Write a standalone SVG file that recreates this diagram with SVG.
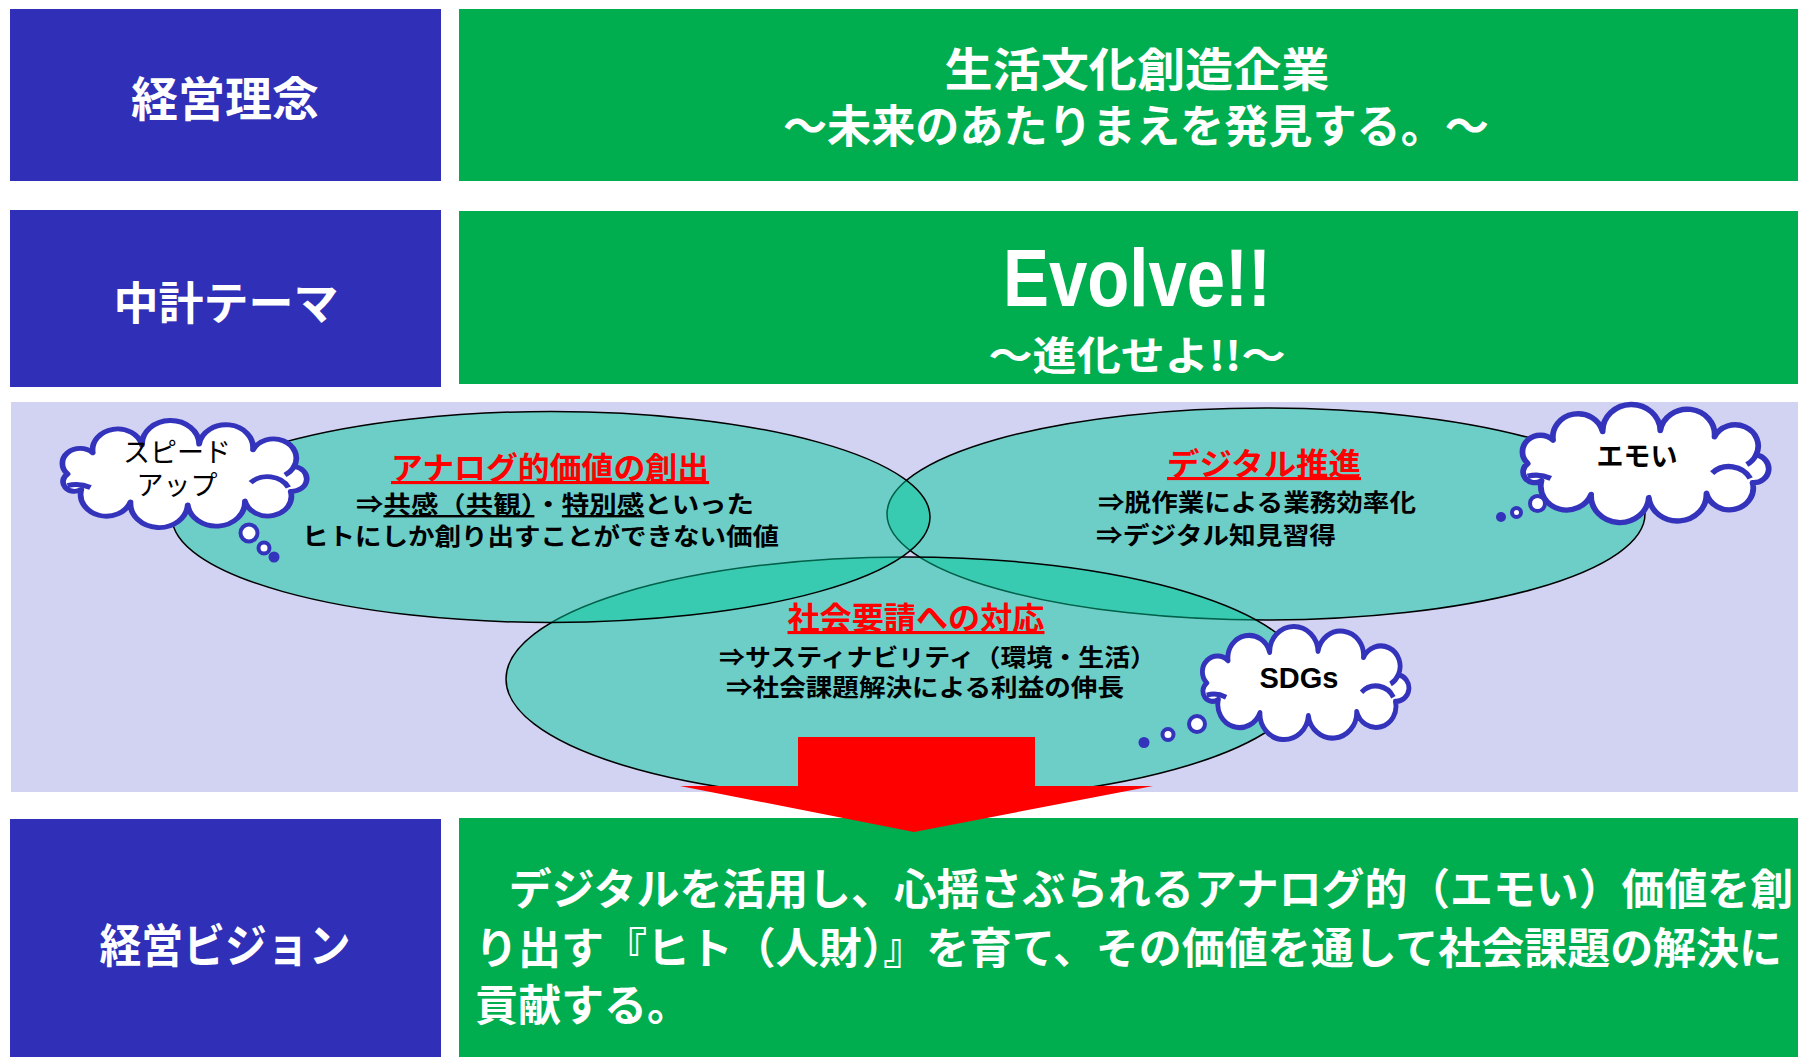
<svg xmlns="http://www.w3.org/2000/svg" width="1798" height="1057" viewBox="0 0 1798 1057">
<style>
.t{font-family:"Noto Sans CJK JP","Noto Sans CJK SC",sans-serif}
.w{fill:#fff;font-weight:700}
.blue{fill:#2F2FB7}
.green{fill:#00AE4F}
.ell{fill:#00C898;fill-opacity:.48;stroke:#000;stroke-width:1.5}
.cloud{fill:#fff;stroke:#3333BB;stroke-width:5;vector-effect:non-scaling-stroke;stroke-linejoin:round}
.tick{fill:none;stroke:#3333BB;stroke-width:5;vector-effect:non-scaling-stroke;stroke-linecap:butt}
.bub{fill:#fff;stroke:#3333BB;stroke-width:4}
.dot{fill:#3333BB}
.head{fill:#FF0000;font-weight:700;font-size:31px;text-decoration:underline}
.body{fill:#000;font-weight:700;font-size:24px}
.ul{text-decoration:underline}
.ct{fill:#000;font-size:27px}
</style>
<defs>
<path id="cloudShape" d="M -100 0 A 15.5 15.5 0 0 1 -78 -22 A 21.9 21.9 0 0 1 -35 -30 A 25 25 0 0 1 15 -31 A 23.7 23.7 0 0 1 62 -25 A 19.9 19.9 0 0 1 98 -8 A 13.1 13.1 0 0 1 95 18 A 20.6 20.6 0 0 1 55 28 A 25.1 25.1 0 0 1 5 32 A 25 25 0 0 1 -45 29 A 22.5 22.5 0 0 1 -88 16 A 10 10 0 0 1 -100 0 Z"/>
<path id="cloudTicks" d="M 98 -8 A 19.9 19.9 0 0 1 90 1 M 60 9 A 20.6 20.6 0 0 1 93 14 M -100 12 Q -90 9 -80 14"/>
</defs>

<g id="row1-label"><rect class="blue" x="10" y="9" width="431" height="172"/><text class="t w" x="225" y="116" font-size="47" text-anchor="middle">経営理念</text></g>
<g id="row1-content"><rect class="green" x="459" y="9" width="1339" height="172"/>
<text class="t w" x="1137" y="86" font-size="46" text-anchor="middle" textLength="385" lengthAdjust="spacingAndGlyphs">生活文化創造企業</text>
<text class="t w" x="1136" y="143" font-size="45" text-anchor="middle" textLength="706" lengthAdjust="spacingAndGlyphs">～未来のあたりまえを発見する。～</text></g>

<g id="row2-label"><rect class="blue" x="10" y="210" width="431" height="177"/><text class="t w" x="226" y="320" font-size="45" text-anchor="middle">中計テーマ</text></g>
<g id="row2-content"><rect class="green" x="459" y="211" width="1339" height="173"/>
<text x="1137" y="306" font-family="'Liberation Sans',Arial,sans-serif" font-weight="700" font-size="81" fill="#fff" text-anchor="middle" textLength="268" lengthAdjust="spacingAndGlyphs">Evolve!!</text>
<text class="t w" x="1137" y="370" font-size="40" text-anchor="middle" textLength="297" lengthAdjust="spacingAndGlyphs">～進化せよ!!～</text></g>

<g id="venn-panel"><rect x="11" y="402" width="1787" height="390" fill="#D2D2F2"/></g>

<g id="circle-digital"><ellipse class="ell" cx="1266" cy="514" rx="379" ry="106"/></g>
<g id="circle-social"><ellipse class="ell" cx="906" cy="679" rx="400" ry="122"/></g>
<g id="circle-analog"><ellipse class="ell" cx="551" cy="517" rx="379" ry="105.5"/></g>

<g id="analog-text">
<text class="t head" x="550" y="479" text-anchor="middle" textLength="318" lengthAdjust="spacingAndGlyphs">アナログ的価値の創出</text>
<text class="t body" x="356" y="513" textLength="398" lengthAdjust="spacingAndGlyphs">⇒<tspan class="ul">共感（共観）</tspan>・<tspan class="ul">特別感</tspan>といった</text>
<text class="t body" x="302" y="545" textLength="477" lengthAdjust="spacingAndGlyphs">ヒトにしか創り出すことができない価値</text>
</g>
<g id="digital-text">
<text class="t head" x="1264" y="475" text-anchor="middle" textLength="194" lengthAdjust="spacingAndGlyphs">デジタル推進</text>
<text class="t body" x="1098" y="511" textLength="318" lengthAdjust="spacingAndGlyphs">⇒脱作業による業務効率化</text>
<text class="t body" x="1096" y="544" textLength="240" lengthAdjust="spacingAndGlyphs">⇒デジタル知見習得</text>
</g>
<g id="social-text">
<text class="t head" x="916" y="629" text-anchor="middle" textLength="257" lengthAdjust="spacingAndGlyphs">社会要請への対応</text>
<text class="t body" x="719" y="666" textLength="437" lengthAdjust="spacingAndGlyphs">⇒サスティナビリティ（環境・生活）</text>
<text class="t body" x="726" y="696" textLength="398" lengthAdjust="spacingAndGlyphs">⇒社会課題解決による利益の伸長</text>
</g>

<g id="cloud-speedup">
<g transform="translate(182,474) scale(1.144,0.964)"><use href="#cloudShape" class="cloud"/><use href="#cloudTicks" class="tick"/></g>
<circle class="bub" cx="249" cy="533" r="8.5"/><circle class="bub" cx="264" cy="548" r="5.5"/><circle class="dot" cx="274" cy="557" r="5.5"/>
<text class="t ct" x="177" y="462" text-anchor="middle">スピード</text>
<text class="t ct" x="177" y="495" text-anchor="middle">アップ</text>
</g>
<g id="cloud-emoi">
<g transform="translate(1643,463.5) scale(1.153,1.063)"><use href="#cloudShape" class="cloud"/><use href="#cloudTicks" class="tick"/></g>
<circle class="bub" cx="1537.5" cy="503.5" r="7.5"/><circle class="bub" cx="1516.5" cy="512.5" r="4.5"/><circle class="dot" cx="1501" cy="517" r="5"/>
<text class="t ct" x="1637" y="466" font-weight="700" text-anchor="middle">エモい</text>
</g>
<g id="cloud-sdgs">
<g transform="translate(1303.5,683) scale(0.967,1.018)"><use href="#cloudShape" class="cloud"/><use href="#cloudTicks" class="tick"/></g>
<circle class="bub" cx="1197" cy="724" r="8"/><circle class="bub" cx="1168" cy="734.5" r="5.5"/><circle class="dot" cx="1144" cy="742.5" r="5.5"/>
<text x="1299" y="688" font-family="'Liberation Sans',Arial,sans-serif" font-weight="700" font-size="29" fill="#000" text-anchor="middle">SDGs</text>
</g>

<g id="row3-label"><rect class="blue" x="10" y="819" width="431" height="238"/><text class="t w" x="225" y="962" font-size="46" text-anchor="middle" textLength="251" lengthAdjust="spacingAndGlyphs">経営ビジョン</text></g>
<g id="row3-content"><rect class="green" x="459" y="818" width="1339" height="239"/>
<text class="t w" x="466" y="905" font-size="43" textLength="1327" lengthAdjust="spacingAndGlyphs">　デジタルを活用し、心揺さぶられるアナログ的（エモい）価値を創</text>
<text class="t w" x="475" y="964" font-size="43" textLength="1307" lengthAdjust="spacingAndGlyphs">り出す『ヒト（人財）』を育て、その価値を通して社会課題の解決に</text>
<text class="t w" x="475" y="1021" font-size="43">貢献する。</text>
</g>

<g id="connectors">
<polygon points="798,737 1035,737 1035,786 1153,786 914,832 680,786 798,786" fill="#FF0000"/>
</g>
</svg>
